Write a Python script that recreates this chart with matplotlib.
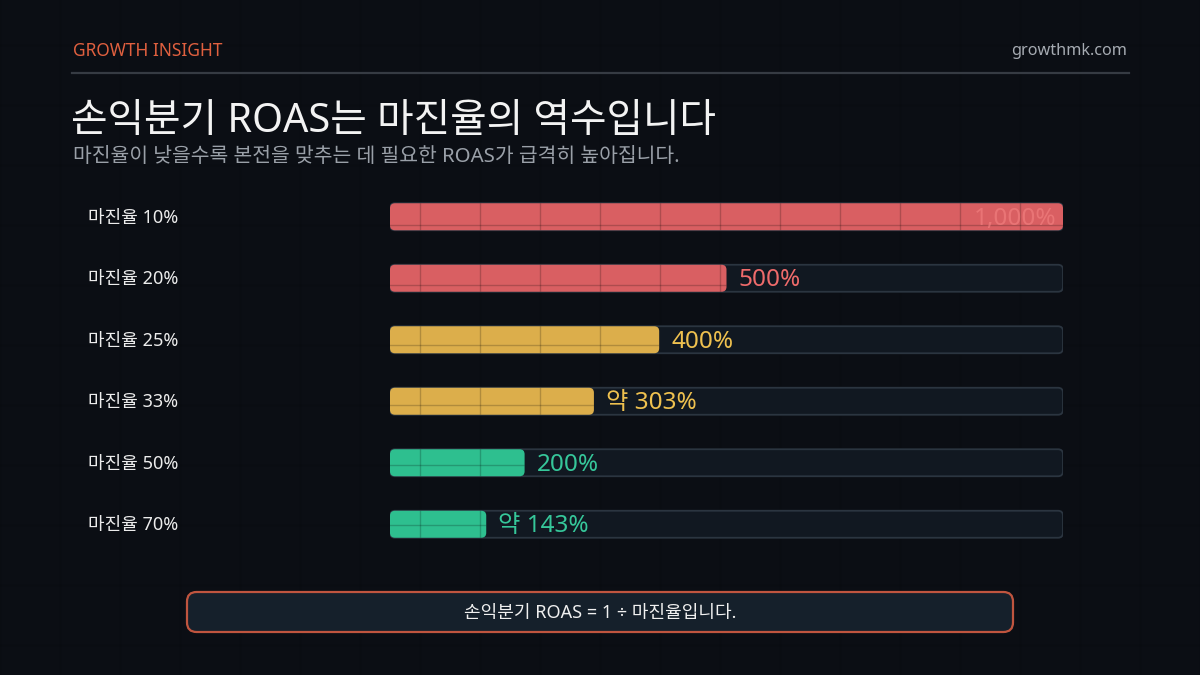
import matplotlib.pyplot as plt
from matplotlib.patches import FancyBboxPatch
from matplotlib.lines import Line2D

plt.rcParams['font.family'] = ['Noto Sans', 'Noto Sans CJK KR', 'DejaVu Sans']

# data
categories = ['마진율 10%', '마진율 20%', '마진율 25%', '마진율 33%', '마진율 50%', '마진율 70%']
roas = [1000, 500, 400, 303, 200, 143]
value_labels = ['1,000%', '500%', '400%', '약 303%', '200%', '약 143%']
bar_colors = ['#d95f62', '#d95f62', '#dcae4b', '#dcae4b', '#2ebf8f', '#2ebf8f']
text_colors = ['#ef7c7c', '#ef6b6b', '#efc14f', '#efc14f', '#36c79a', '#36c79a']
x_max = 1000

bg = '#0b0e14'
W, H = 1200, 675

fig = plt.figure(figsize=(12, 6.75), dpi=100, facecolor=bg)

# header
fig.text(73 / W, 1 - 51 / H, 'GROWTH INSIGHT', color='#e0603f', fontsize=12.5, va='center', ha='left')
fig.text(1127 / W, 1 - 51 / H, 'growthmk.com', color='#a6abb2', fontsize=11.7, va='center', ha='right')
fig.add_artist(Line2D([72 / W, 1129 / W], [1 - 73 / H, 1 - 73 / H], color='#363b43', lw=1.6))
fig.text(71 / W, 1 - 122 / H, '손익분기 ROAS는 마진율의 역수입니다', color='#f3f3f3', fontsize=28.6, va='center', ha='left')
fig.text(73 / W, 1 - 157 / H, '마진율이 낮을수록 본전을 맞추는 데 필요한 ROAS가 급격히 높아집니다.',
         color='#9aa0a8', fontsize=14.7, va='center', ha='left')

# bar axes
ax_l, ax_r = 390, 1063
ax_t, ax_b = 186, 555
ax = fig.add_axes([ax_l / W, 1 - ax_b / H, (ax_r - ax_l) / W, (ax_b - ax_t) / H])
ax.set_xlim(0, x_max)
ax.set_ylim(len(categories) - 0.5, -0.5)
ax.axis('off')
ax.patch.set_alpha(0)

px_x = x_max / (ax_r - ax_l)
px_y = len(categories) / (ax_b - ax_t)
aspect = px_y / px_x
bh = 27 * px_y
r = 5 * px_x

for i, (cat, v) in enumerate(zip(categories, roas)):
    track = FancyBboxPatch((0, i - bh / 2), x_max, bh,
                           boxstyle=f'round,pad=0,rounding_size={r}', mutation_aspect=aspect,
                           facecolor='#111821', edgecolor='#2b3540', lw=1.3, zorder=1)
    ax.add_patch(track)
    bar = FancyBboxPatch((0, i - bh / 2), v, bh,
                         boxstyle=f'round,pad=0,rounding_size={r}', mutation_aspect=aspect,
                         facecolor=bar_colors[i], edgecolor='none', zorder=2)
    ax.add_patch(bar)
    # grid lines showing through the bar
    for gx in range(420, ax_r, 60):
        ln = ax.axvline((gx - ax_l) * px_x, color='black', alpha=0.2, lw=1, zorder=3)
        ln.set_clip_path(bar)
    for gy in range(45, H, 60):
        if ax_t < gy < ax_b:
            ln = ax.axhline((gy - ax_t) * px_y - 0.5, color='black', alpha=0.2, lw=1, zorder=3)
            ln.set_clip_path(bar)
    ty = i + 2 * px_y
    if v >= x_max * 0.9:
        ax.text(v - 7 * px_x, ty, value_labels[i], color=text_colors[i], alpha=0.75,
                fontsize=17.5, va='center', ha='right', zorder=4)
    else:
        ax.text(v + 12 * px_x, ty, value_labels[i], color=text_colors[i],
                fontsize=17.5, va='center', ha='left', zorder=4)
    fig.text(88 / W, 1 - (ax_t + (i + 0.5) * (ax_b - ax_t) / len(categories) + 1) / H, cat,
             color='#ececec', fontsize=13, va='center', ha='left')

# very faint background grid
for gx in range(0, W + 1, 60):
    fig.add_artist(Line2D([gx / W, gx / W], [0, 1], color='black', alpha=0.07, lw=1, zorder=0))
for gy in range(45, H, 60):
    fig.add_artist(Line2D([0, 1], [1 - gy / H, 1 - gy / H], color='black', alpha=0.07, lw=1, zorder=0))

# formula box
box = FancyBboxPatch((187 / W, 1 - 632 / H), (1013 - 187) / W, (632 - 592) / H,
                     boxstyle='round,pad=0,rounding_size=0.008', mutation_aspect=W / H,
                     transform=fig.transFigure, facecolor='#15202b', edgecolor='#c0553f', lw=1.6, zorder=6)
fig.add_artist(box)
fig.text(0.5, 1 - 613 / H, '손익분기 ROAS = 1 ÷ 마진율입니다.', color='#f0f0f0', fontsize=13,
         va='center', ha='center', zorder=7)

fig.savefig('out.png', dpi=100, facecolor=bg)
